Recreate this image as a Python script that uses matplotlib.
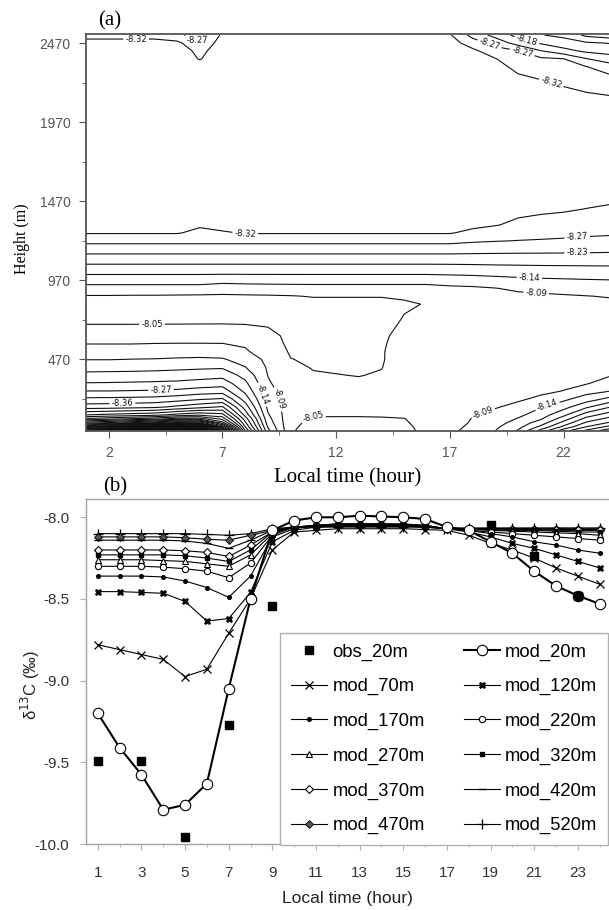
import numpy as np
import matplotlib
matplotlib.use("Agg")
import matplotlib.pyplot as plt

# ---------------- panel (a): d13C field, rows = height (m), cols = local hour 1..24
hours_a = list(range(1, 25))

heights_low = [20, 45, 70, 95, 120]
grid_low = [
    [-9.20, -9.40, -9.57, -9.78, -9.75, -9.62, -9.05, -8.50, -8.20, -8.055, -8.03, -8.02, -8.02, -8.02, -8.035, -8.065, -8.085, -8.11, -8.14, -8.19, -8.29, -8.39, -8.465, -8.53],
    [-8.95, -9.05, -9.15, -9.25, -9.30, -9.25, -8.85, -8.455, -8.18, -8.058, -8.035, -8.03, -8.03, -8.03, -8.04, -8.066, -8.08, -8.105, -8.132, -8.17, -8.24, -8.33, -8.41, -8.466],
    [-8.75, -8.78, -8.82, -8.86, -8.92, -8.90, -8.70, -8.42, -8.165, -8.06, -8.04, -8.037, -8.037, -8.038, -8.045, -8.067, -8.075, -8.10, -8.123, -8.157, -8.207, -8.29, -8.372, -8.414],
    [-8.60, -8.62, -8.64, -8.66, -8.70, -8.70, -8.62, -8.39, -8.155, -8.062, -8.046, -8.045, -8.045, -8.046, -8.049, -8.068, -8.073, -8.097, -8.115, -8.143, -8.18, -8.252, -8.335, -8.378],
    [-8.50, -8.51, -8.52, -8.53, -8.56, -8.58, -8.56, -8.35, -8.145, -8.065, -8.054, -8.054, -8.054, -8.055, -8.056, -8.069, -8.072, -8.093, -8.107, -8.13, -8.162, -8.219, -8.297, -8.343],
]

heights_bl = [170, 220, 270, 320, 370, 420, 470, 520, 570, 620]
grid_bl = [
    [-8.388, -8.39, -8.395, -8.40, -8.42, -8.44, -8.46, -8.30, -8.13, -8.068, -8.06, -8.06, -8.06, -8.061, -8.063, -8.07, -8.071, -8.085, -8.092, -8.105, -8.137, -8.168, -8.222, -8.271],
    [-8.329, -8.33, -8.332, -8.335, -8.345, -8.36, -8.37, -8.255, -8.12, -8.07, -8.062, -8.061, -8.061, -8.062, -8.066, -8.071, -8.071, -8.08, -8.085, -8.09, -8.102, -8.13, -8.162, -8.197],
    [-8.276, -8.276, -8.278, -8.28, -8.285, -8.295, -8.30, -8.22, -8.11, -8.07, -8.061, -8.059, -8.058, -8.061, -8.068, -8.072, -8.072, -8.077, -8.081, -8.085, -8.088, -8.096, -8.123, -8.139],
    [-8.232, -8.233, -8.235, -8.237, -8.24, -8.248, -8.255, -8.195, -8.10, -8.068, -8.058, -8.056, -8.055, -8.058, -8.07, -8.072, -8.072, -8.075, -8.078, -8.081, -8.083, -8.087, -8.091, -8.115],
    [-8.198, -8.199, -8.20, -8.202, -8.205, -8.21, -8.215, -8.17, -8.094, -8.064, -8.053, -8.051, -8.049, -8.053, -8.07, -8.072, -8.072, -8.074, -8.076, -8.078, -8.081, -8.084, -8.087, -8.091],
    [-8.168, -8.169, -8.17, -8.172, -8.175, -8.178, -8.18, -8.142, -8.09, -8.058, -8.048, -8.046, -8.046, -8.049, -8.07, -8.072, -8.071, -8.073, -8.075, -8.077, -8.079, -8.082, -8.085, -8.088],
    [-8.139, -8.139, -8.141, -8.142, -8.145, -8.147, -8.145, -8.12, -8.085, -8.051, -8.045, -8.043, -8.043, -8.047, -8.069, -8.071, -8.07, -8.072, -8.074, -8.076, -8.078, -8.08, -8.082, -8.085],
    [-8.118, -8.117, -8.118, -8.119, -8.12, -8.12, -8.115, -8.10, -8.075, -8.046, -8.042, -8.041, -8.041, -8.047, -8.068, -8.07, -8.068, -8.07, -8.072, -8.074, -8.076, -8.078, -8.08, -8.082],
    [-8.094, -8.094, -8.094, -8.0955, -8.096, -8.096, -8.0955, -8.09, -8.068, -8.042, -8.04, -8.04, -8.04, -8.045, -8.067, -8.069, -8.067, -8.069, -8.071, -8.073, -8.075, -8.077, -8.078, -8.08],
    [-8.076, -8.076, -8.076, -8.077, -8.078, -8.079, -8.08, -8.075, -8.062, -8.04, -8.038, -8.038, -8.038, -8.042, -8.065, -8.068, -8.066, -8.068, -8.07, -8.072, -8.074, -8.076, -8.077, -8.078],
]

heights_mid = [720, 820, 870, 920, 1020, 1120, 1220, 1270, 1320]
grid_mid = [
    [-8.04, -8.04, -8.04, -8.04, -8.04, -8.04, -8.04, -8.04, -8.04, -8.035, -8.035, -8.035, -8.035, -8.035, -8.053, -8.058, -8.065, -8.067, -8.069, -8.071, -8.073, -8.075, -8.077, -8.078],
    [-8.038, -8.038, -8.038, -8.038, -8.038, -8.038, -8.038, -8.038, -8.038, -8.038, -8.038, -8.038, -8.038, -8.038, -8.045, -8.052, -8.07, -8.073, -8.076, -8.078, -8.08, -8.082, -8.085, -8.087],
    [-8.047, -8.047, -8.046, -8.046, -8.045, -8.044, -8.044, -8.045, -8.046, -8.048, -8.052, -8.052, -8.052, -8.052, -8.055, -8.06, -8.08, -8.082, -8.084, -8.086, -8.088, -8.091, -8.094, -8.097],
    [-8.079, -8.079, -8.079, -8.079, -8.079, -8.079, -8.071, -8.074, -8.076, -8.077, -8.078, -8.078, -8.078, -8.078, -8.078, -8.078, -8.085, -8.088, -8.094, -8.102, -8.107, -8.11, -8.113, -8.115],
    [-8.149, -8.149, -8.149, -8.149, -8.149, -8.149, -8.149, -8.149, -8.149, -8.149, -8.149, -8.149, -8.149, -8.149, -8.149, -8.149, -8.15, -8.152, -8.155, -8.157, -8.159, -8.16, -8.161, -8.162],
    [-8.218, -8.218, -8.218, -8.218, -8.218, -8.218, -8.218, -8.218, -8.218, -8.218, -8.218, -8.218, -8.218, -8.218, -8.218, -8.218, -8.218, -8.218, -8.218, -8.218, -8.218, -8.218, -8.218, -8.218],
    [-8.288, -8.288, -8.288, -8.288, -8.288, -8.288, -8.288, -8.288, -8.288, -8.288, -8.288, -8.288, -8.288, -8.288, -8.288, -8.288, -8.288, -8.281, -8.277, -8.274, -8.272, -8.27, -8.267, -8.263],
    [-8.323, -8.323, -8.323, -8.323, -8.323, -8.31, -8.315, -8.323, -8.323, -8.323, -8.323, -8.323, -8.323, -8.323, -8.323, -8.323, -8.323, -8.309, -8.2995, -8.293, -8.288, -8.285, -8.282, -8.281],
    [-8.335, -8.335, -8.335, -8.335, -8.335, -8.325, -8.335, -8.335, -8.335, -8.335, -8.335, -8.335, -8.335, -8.335, -8.335, -8.335, -8.335, -8.33, -8.322, -8.312, -8.304, -8.299, -8.295, -8.291],
]

heights_top = [1420, 1520, 1820, 2120, 2220, 2320, 2370, 2420, 2470, 2520]
grid_top = [
    [-8.34, -8.34, -8.34, -8.34, -8.34, -8.34, -8.34, -8.34, -8.34, -8.34, -8.34, -8.34, -8.34, -8.34, -8.34, -8.34, -8.34, -8.34, -8.335, -8.33, -8.328, -8.325, -8.319, -8.314],
    [-8.34, -8.34, -8.34, -8.34, -8.34, -8.34, -8.34, -8.34, -8.34, -8.34, -8.34, -8.34, -8.34, -8.34, -8.34, -8.34, -8.34, -8.34, -8.34, -8.34, -8.34, -8.34, -8.34, -8.335],
    [-8.34, -8.34, -8.34, -8.34, -8.34, -8.34, -8.34, -8.34, -8.34, -8.34, -8.34, -8.34, -8.34, -8.34, -8.34, -8.34, -8.34, -8.34, -8.34, -8.34, -8.34, -8.34, -8.34, -8.34],
    [-8.34, -8.34, -8.34, -8.34, -8.34, -8.34, -8.34, -8.34, -8.34, -8.34, -8.34, -8.34, -8.34, -8.34, -8.34, -8.34, -8.34, -8.34, -8.34, -8.34, -8.34, -8.335, -8.33, -8.325],
    [-8.34, -8.34, -8.34, -8.34, -8.34, -8.34, -8.34, -8.34, -8.34, -8.34, -8.34, -8.34, -8.34, -8.34, -8.34, -8.34, -8.34, -8.34, -8.34, -8.335, -8.325, -8.315, -8.304, -8.298],
    [-8.34, -8.34, -8.34, -8.34, -8.34, -8.335, -8.34, -8.34, -8.34, -8.34, -8.34, -8.34, -8.34, -8.34, -8.34, -8.34, -8.34, -8.34, -8.335, -8.308, -8.2975, -8.289, -8.276, -8.255],
    [-8.34, -8.34, -8.34, -8.34, -8.34, -8.318, -8.34, -8.34, -8.34, -8.34, -8.34, -8.34, -8.34, -8.34, -8.34, -8.34, -8.34, -8.34, -8.322, -8.292, -8.283, -8.276, -8.232, -8.204],
    [-8.34, -8.34, -8.34, -8.34, -8.34, -8.31, -8.34, -8.34, -8.34, -8.34, -8.34, -8.34, -8.34, -8.34, -8.34, -8.34, -8.34, -8.33, -8.294, -8.277, -8.232, -8.20, -8.176, -8.17],
    [-8.335, -8.335, -8.335, -8.335, -8.33, -8.285, -8.34, -8.34, -8.34, -8.34, -8.34, -8.34, -8.34, -8.34, -8.34, -8.34, -8.34, -8.298, -8.259, -8.211, -8.18, -8.159, -8.146, -8.138],
    [-8.305, -8.305, -8.305, -8.305, -8.29, -8.245, -8.33, -8.34, -8.34, -8.34, -8.34, -8.34, -8.34, -8.34, -8.34, -8.34, -8.325, -8.26, -8.215, -8.17, -8.142, -8.13, -8.085, -8.07],
]

# ---------------- panel (b): d13C time series at model levels + observations
hours_b = list(range(1, 25))
obs_hours = [1, 3, 5, 7, 9, 19, 21, 23]
obs_20m = [-9.49, -9.49, -9.955, -9.27, -8.54, -8.05, -8.235, -8.48]

mod_20m = [-9.20, -9.41, -9.575, -9.79, -9.76, -9.63, -9.05, -8.50, -8.08, -8.02, -8.00, -8.00, -7.99, -7.995, -8.00, -8.01, -8.06, -8.08, -8.15, -8.22, -8.33, -8.42, -8.48, -8.53]
mod_70m = [-8.78, -8.81, -8.84, -8.87, -8.975, -8.93, -8.71, -8.50, -8.20, -8.09, -8.08, -8.07, -8.07, -8.07, -8.07, -8.075, -8.08, -8.11, -8.16, -8.20, -8.25, -8.31, -8.36, -8.41]
mod_120m = [-8.455, -8.455, -8.46, -8.465, -8.515, -8.635, -8.62, -8.46, -8.15, -8.08, -8.06, -8.05, -8.05, -8.05, -8.05, -8.06, -8.07, -8.09, -8.12, -8.16, -8.19, -8.23, -8.27, -8.31]
mod_170m = [-8.36, -8.36, -8.36, -8.365, -8.39, -8.43, -8.49, -8.36, -8.12, -8.07, -8.05, -8.04, -8.04, -8.04, -8.045, -8.05, -8.07, -8.08, -8.10, -8.12, -8.15, -8.17, -8.20, -8.22]
mod_220m = [-8.30, -8.30, -8.30, -8.305, -8.315, -8.33, -8.37, -8.28, -8.11, -8.06, -8.05, -8.04, -8.04, -8.04, -8.04, -8.05, -8.07, -8.08, -8.09, -8.10, -8.11, -8.12, -8.13, -8.14]
mod_270m = [-8.26, -8.26, -8.26, -8.265, -8.27, -8.285, -8.30, -8.23, -8.10, -8.06, -8.05, -8.045, -8.045, -8.045, -8.045, -8.05, -8.07, -8.075, -8.08, -8.085, -8.09, -8.095, -8.10, -8.11]
mod_320m = [-8.23, -8.23, -8.23, -8.23, -8.235, -8.25, -8.27, -8.20, -8.09, -8.06, -8.05, -8.05, -8.05, -8.05, -8.05, -8.055, -8.07, -8.07, -8.075, -8.08, -8.08, -8.085, -8.09, -8.09]
mod_370m = [-8.20, -8.20, -8.20, -8.20, -8.205, -8.215, -8.24, -8.17, -8.09, -8.06, -8.055, -8.05, -8.05, -8.05, -8.05, -8.055, -8.07, -8.07, -8.07, -8.075, -8.075, -8.08, -8.08, -8.08]
mod_420m = [-8.14, -8.14, -8.14, -8.14, -8.145, -8.16, -8.19, -8.14, -8.08, -8.06, -8.055, -8.055, -8.055, -8.055, -8.055, -8.06, -8.07, -8.07, -8.07, -8.07, -8.07, -8.075, -8.075, -8.075]
mod_470m = [-8.12, -8.12, -8.12, -8.12, -8.125, -8.135, -8.14, -8.11, -8.08, -8.06, -8.06, -8.055, -8.055, -8.055, -8.055, -8.06, -8.07, -8.07, -8.07, -8.07, -8.07, -8.07, -8.07, -8.07]
mod_520m = [-8.10, -8.10, -8.10, -8.10, -8.10, -8.105, -8.11, -8.10, -8.07, -8.06, -8.06, -8.06, -8.06, -8.06, -8.06, -8.06, -8.065, -8.065, -8.065, -8.065, -8.065, -8.065, -8.065, -8.065]

SANS = ["Liberation Sans", "DejaVu Sans"]
SERIF = ["Liberation Serif", "DejaVu Serif"]


def lab_fmt(v):
    # contour labels in the original are cut to two decimals
    return ("%.3f" % v)[:-1]


def main():
    plt.rcParams["contour.negative_linestyle"] = "solid"
    fig = plt.figure(figsize=(6.09, 9.10), dpi=100)

    # ---------- (a) contour
    ax1 = fig.add_axes([0.1412, 0.5267, 0.8588, 0.4356])
    Z = np.array(heights_low + heights_bl + heights_mid + heights_top)
    C = np.array(grid_low + grid_bl + grid_mid + grid_top)
    levels = np.sort(-8.05 - 0.045 * np.arange(41))
    cs = ax1.contour(hours_a, Z, C, levels=levels, colors="#111111",
                     linewidths=0.8, linestyles="solid")
    spots = [(8.0, 1263), (3.9, 685), (22.6, 1245), (22.6, 1150), (20.5, 985),
             (20.8, 890), (3.2, 2495), (5.9, 2485), (18.8, 2480), (20.4, 2495),
             (20.2, 2420), (21.5, 2240), (4.3, 275), (18.5, 115), (21.3, 172),
             (11.0, 100), (2.6, 190), (9.5, 220), (8.8, 250)]
    ax1.clabel(cs, fmt=lab_fmt, fontsize=6, manual=spots, inline=True, inline_spacing=2)

    ax1.set_xlim(1, 24)
    ax1.set_ylim(20, 2525)
    ax1.set_xticks([2, 7, 12, 17, 22])
    ax1.set_xticks([4.5, 9.5, 14.5, 19.5], minor=True)
    ax1.set_yticks([470, 970, 1470, 1970, 2470])
    ax1.set_yticks([220, 720, 1220, 1720, 2220], minor=True)
    ax1.tick_params(which="both", direction="out", color="#555555", labelcolor="#555555",
                    labelsize=10, top=False, right=False)
    ax1.tick_params(which="major", length=5, pad=6)
    ax1.tick_params(which="minor", length=3)
    for lab in ax1.get_xticklabels() + ax1.get_yticklabels():
        lab.set_family(SANS)
    ax1.spines["right"].set_visible(False)
    for s in ["top", "left", "bottom"]:
        ax1.spines[s].set_color("#555555")
        ax1.spines[s].set_linewidth(1.3)
    ax1.set_xlabel("Local time (hour)", family=SERIF, fontsize=15)
    ax1.xaxis.set_label_coords(0.501, -0.094)
    ax1.set_ylabel("Height (m)", family=SERIF, fontsize=11.5)
    ax1.yaxis.set_label_coords(-0.108, 0.4836)

    fig.text(0.1806, 0.9769, "(a)", family=SERIF, fontsize=15, ha="center", va="center")
    fig.text(0.1888, 0.4648, "(b)", family=SERIF, fontsize=15, ha="center", va="center")

    # ---------- (b) time series
    ax2 = fig.add_axes([0.1412, 0.0725, 0.8588, 0.3788])
    k = dict(color="black", lw=0.8)
    series = [
        ("mod_20m", mod_20m, dict(marker="o", ms=7.5, mfc="white", mew=0.8, lw=1.5, color="black")),
        ("mod_70m", mod_70m, dict(marker="x", ms=6, mew=0.9, **k)),
        ("mod_120m", mod_120m, dict(marker="X", ms=4.5, mew=0.5, **k)),
        ("mod_170m", mod_170m, dict(marker="o", ms=2.6, **k)),
        ("mod_220m", mod_220m, dict(marker="o", ms=4.5, mfc="white", mew=0.8, **k)),
        ("mod_270m", mod_270m, dict(marker="^", ms=4.5, mfc="white", mew=0.8, **k)),
        ("mod_320m", mod_320m, dict(marker="s", ms=2.6, **k)),
        ("mod_370m", mod_370m, dict(marker="D", ms=3.6, mfc="white", mew=0.8, **k)),
        ("mod_420m", mod_420m, dict(marker="_", ms=6, mew=1.0, **k)),
        ("mod_470m", mod_470m, dict(marker="D", ms=3.6, mfc="#555555", mew=0.6, **k)),
        ("mod_520m", mod_520m, dict(marker="+", ms=6.5, mew=0.9, **k)),
    ]
    handles = {}
    for name, vals, style in series[::-1]:
        h, = ax2.plot(hours_b, vals, label=name, zorder=3, **style)
        handles[name] = h
    h_obs, = ax2.plot(obs_hours, obs_20m, ls="none", marker="s", ms=6.2, color="black",
                      label="obs_20m", zorder=4)
    handles["obs_20m"] = h_obs

    ax2.set_xlim(0.46, 24.43)
    ax2.set_ylim(-10.0, -7.89)
    ax2.set_xticks(list(range(1, 24, 2)))
    ax2.set_xticks(list(range(1, 25)), minor=True)
    ax2.set_yticks([-10.0, -9.5, -9.0, -8.5, -8.0])
    ax2.set_yticklabels(["%.1f" % v for v in [-10.0, -9.5, -9.0, -8.5, -8.0]])
    ax2.tick_params(which="both", direction="out", color="#b0b0b0", labelcolor="#333333",
                    labelsize=11, top=False, right=False)
    ax2.tick_params(which="major", length=4, pad=12, axis="x")
    ax2.tick_params(which="major", length=4, pad=8, axis="y")
    ax2.tick_params(which="minor", length=2)
    for lab in ax2.get_xticklabels() + ax2.get_yticklabels():
        lab.set_family(SANS)
    ax2.spines["right"].set_visible(False)
    for s in ["top", "left", "bottom"]:
        ax2.spines[s].set_color("#a0a0a0")
        ax2.spines[s].set_linewidth(1.0)
    ax2.set_xlabel("Local time (hour)", family=SANS, fontsize=12.5, color="#222222")
    ax2.xaxis.set_label_coords(0.5, -0.136)
    ax2.set_ylabel("\u03b4$^{13}$C (\u2030)", family=SANS, fontsize=12, color="#222222")
    ax2.yaxis.set_label_coords(-0.085, 0.461)

    order = ["obs_20m", "mod_70m", "mod_170m", "mod_270m", "mod_370m", "mod_470m",
             "mod_20m", "mod_120m", "mod_220m", "mod_320m", "mod_420m", "mod_520m"]
    leg = ax2.legend([handles[n] for n in order], order, ncol=2, loc="lower left",
                     bbox_to_anchor=(0.371, -0.003), prop={"family": SANS, "size": 13.3},
                     frameon=True, fancybox=False, edgecolor="#b0b0b0", framealpha=1,
                     handlelength=1.95, handletextpad=0.3, columnspacing=2.1,
                     labelspacing=0.95, borderpad=0.58, borderaxespad=0)
    leg.get_frame().set_linewidth(1.0)

    fig.savefig("out.png", dpi=100)


if __name__ == "__main__":
    main()
